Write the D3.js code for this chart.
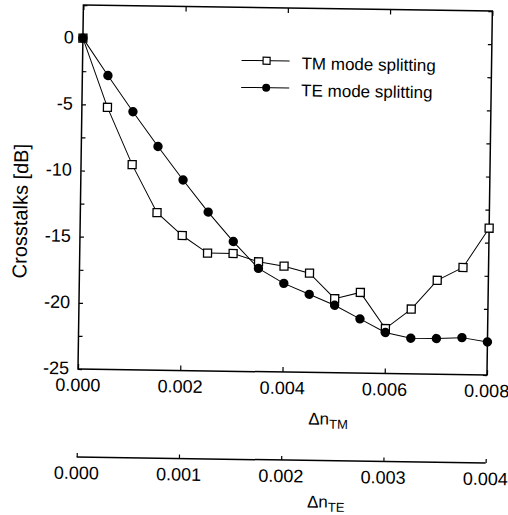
<!DOCTYPE html>
<html>
<head>
<meta charset="utf-8">
<script src="https://cdn.jsdelivr.net/npm/d3@7"></script>
<style>
  body { margin: 0; background: #fff; }
  text { font-family: "Liberation Sans", Arial, sans-serif; fill: #000; }
</style>
</head>
<body>
<div id="chart"></div>
<script>
// index difference along the TM axis (bottom) and TE axis (second scale)
const dnTM = [0, 0.0005, 0.001, 0.0015, 0.002, 0.0025, 0.003, 0.0035, 0.004,
              0.0045, 0.005, 0.0055, 0.006, 0.0065, 0.007, 0.0075, 0.008];
const tmSplitting = [0, -5.2, -9.5, -13.1, -14.8, -16.1, -16.1, -16.7, -17.0,
                     -17.5, -19.4, -18.9, -21.6, -20.1, -17.9, -16.9, -13.9];
const teSplitting = [0, -2.8, -5.5, -8.1, -10.6, -13.0, -15.2, -17.2, -18.3,
                     -19.1, -19.9, -20.9, -21.9, -22.3, -22.3, -22.2, -22.5];
const tmTicks = [0, 0.002, 0.004, 0.006, 0.008];
const teTicks = [0, 0.001, 0.002, 0.003, 0.004];
const yTicks = [0, -5, -10, -15, -20, -25];
const yMinorTicks = [2.5, 0, -2.5, -5, -7.5, -10, -12.5, -15, -17.5, -20, -22.5, -25];

const W = 508, H = 515;
const pLeft = 78, pRight = 487, pTop = 5, pBottom = 369;

const svg = d3.select("#chart").append("svg")
    .attr("width", W)
    .attr("height", H);

// the scanned figure sits slightly tilted
const g = svg.append("g").attr("transform", `rotate(0.85, ${pLeft}, ${pBottom})`);

const x = d3.scaleLinear().domain([0, 0.008]).range([pLeft, pRight]);
const xTE = d3.scaleLinear().domain([0, 0.004]).range([pLeft, pRight]);
const y = d3.scaleLinear().domain([-25, 2.5]).range([pBottom, pTop]);

// frame
g.append("rect")
    .attr("x", pLeft).attr("y", pTop)
    .attr("width", pRight - pLeft).attr("height", pBottom - pTop)
    .attr("fill", "none").attr("stroke", "#000").attr("stroke-width", 1.5);

// inward ticks
g.append("g").attr("transform", `translate(0,${pBottom})`)
    .call(d3.axisTop(x).tickValues(tmTicks).tickSize(5).tickFormat(""))
    .call(a => a.select(".domain").remove());
g.append("g").attr("transform", `translate(0,${pTop})`)
    .call(d3.axisBottom(x).tickValues(tmTicks).tickSize(5).tickFormat(""))
    .call(a => a.select(".domain").remove());
g.append("g").attr("transform", `translate(${pLeft},0)`)
    .call(d3.axisRight(y).tickValues(yMinorTicks).tickSize(4).tickFormat(""))
    .call(a => a.select(".domain").remove());
g.append("g").attr("transform", `translate(${pRight},0)`)
    .call(d3.axisLeft(y).tickValues(yMinorTicks).tickSize(4).tickFormat(""))
    .call(a => a.select(".domain").remove());
g.selectAll(".tick line").attr("stroke", "#000").attr("stroke-width", 1.2);

// tick labels
g.selectAll(".ylab").data(yTicks).join("text")
    .attr("class", "ylab")
    .attr("x", pLeft - 9).attr("y", d => y(d))
    .attr("dy", "0.3em")
    .attr("text-anchor", "end")
    .attr("font-size", 18)
    .text(d => d);

g.selectAll(".xlab").data(tmTicks).join("text")
    .attr("class", "xlab")
    .attr("x", d => x(d)).attr("y", 391)
    .attr("text-anchor", "middle")
    .attr("font-size", 18)
    .text(d => d.toFixed(3));

// axis titles
g.append("text")
    .attr("transform", "translate(25,212) rotate(-90)")
    .attr("text-anchor", "middle")
    .attr("font-size", 20)
    .text("Crosstalks [dB]");

function deltaTitle(xp, yp, sub) {
    const t = g.append("text").attr("x", xp).attr("y", yp).attr("font-size", 17);
    t.append("tspan").text("Δn");
    t.append("tspan").attr("dy", 4).attr("font-size", 13).text(sub);
}
deltaTitle(309, 421, "TM");
deltaTitle(309, 504, "TE");

// second scale: TE index difference
const teY = 457;
g.append("line")
    .attr("x1", pLeft).attr("x2", pRight)
    .attr("y1", teY).attr("y2", teY)
    .attr("stroke", "#000").attr("stroke-width", 1.5);
g.append("g").attr("transform", `translate(0,${teY})`)
    .call(d3.axisTop(xTE).tickValues(teTicks).tickSize(4).tickFormat(""))
    .call(a => a.select(".domain").remove())
    .selectAll(".tick line").attr("stroke", "#000").attr("stroke-width", 1.2);
g.selectAll(".telab").data(teTicks).join("text")
    .attr("class", "telab")
    .attr("x", d => xTE(d)).attr("y", 479)
    .attr("text-anchor", "middle")
    .attr("font-size", 18)
    .text(d => d.toFixed(3));

// series
const tmData = dnTM.map((d, i) => ({ x: d, v: tmSplitting[i] }));
const teData = dnTM.map((d, i) => ({ x: d, v: teSplitting[i] }));
const line = d3.line().x(d => x(d.x)).y(d => y(d.v));

g.append("path").datum(tmData)
    .attr("d", line).attr("fill", "none")
    .attr("stroke", "#000").attr("stroke-width", 1);
g.append("path").datum(teData)
    .attr("d", line).attr("fill", "none")
    .attr("stroke", "#000").attr("stroke-width", 1);

g.selectAll(".sq").data(tmData).join("rect")
    .attr("class", "sq")
    .attr("x", d => x(d.x) - 4).attr("y", d => y(d.v) - 4)
    .attr("width", 8).attr("height", 8)
    .attr("fill", "#fff").attr("stroke", "#000").attr("stroke-width", 1.3);

g.selectAll(".dot").data(teData).join("circle")
    .attr("class", "dot")
    .attr("cx", d => x(d.x)).attr("cy", d => y(d.v))
    .attr("r", 4.7)
    .attr("fill", "#000");

// legend
const legend = g.append("g");
const rows = [
    { label: "TM mode splitting", y: 58, mark: "square" },
    { label: "TE mode splitting", y: 85, mark: "circle" }
];
rows.forEach(r => {
    legend.append("line")
        .attr("x1", 237).attr("x2", 285)
        .attr("y1", r.y).attr("y2", r.y)
        .attr("stroke", "#000").attr("stroke-width", 1);
    if (r.mark === "square") {
        legend.append("rect")
            .attr("x", 262 - 3.5).attr("y", r.y - 3.5)
            .attr("width", 7).attr("height", 7)
            .attr("fill", "#fff").attr("stroke", "#000").attr("stroke-width", 1.2);
    } else {
        legend.append("circle")
            .attr("cx", 262).attr("cy", r.y).attr("r", 4)
            .attr("fill", "#000");
    }
    legend.append("text")
        .attr("x", 297).attr("y", r.y + 8)
        .attr("font-size", 17)
        .text(r.label);
});
</script>
</body>
</html>
